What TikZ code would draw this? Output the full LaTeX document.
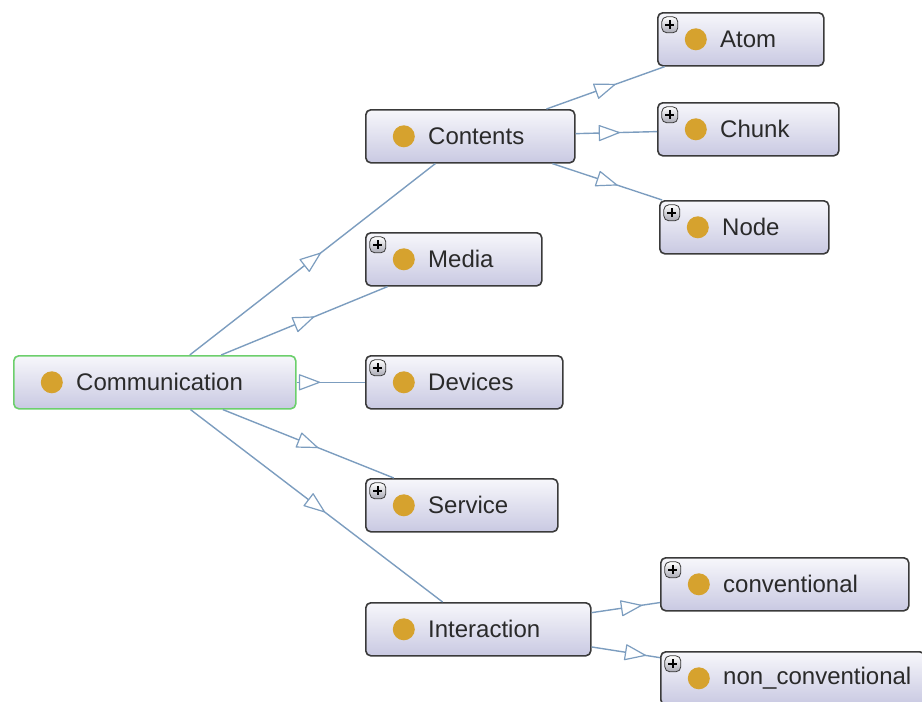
\documentclass[tikz,border=0pt]{standalone}
\usepackage{fontspec}
\setmainfont{Liberation Sans}
\usetikzlibrary{decorations.markings}

\definecolor{boxline}{HTML}{3A3A3A}
\definecolor{rootline}{HTML}{6CCF6C}
\definecolor{boxtop}{HTML}{F7F7FB}
\definecolor{boxbot}{HTML}{C9C9E2}
\definecolor{dotc}{HTML}{D6A22E}
\definecolor{edgec}{HTML}{7C9DBF}
\definecolor{plusbot}{HTML}{A9A9B4}
\definecolor{txtc}{HTML}{2A2A2A}

\tikzset{
  cls/.style={draw=boxline, line width=1.6pt, rounded corners=5pt,
    top color=boxtop, bottom color=boxbot, inner sep=0pt,
    minimum width=#1pt, minimum height=53pt, anchor=north west,
    path picture={
      \fill[dotc] ([xshift=38pt]path picture bounding box.west) circle (11pt);
    }},
  hasmore/.style={path picture={
      \fill[dotc] ([xshift=38pt]path picture bounding box.west) circle (11pt);
      \draw[boxline, line width=0.8pt, top color=white, bottom color=plusbot]
        ([shift={(4pt,-4pt)}]path picture bounding box.north west) rectangle ++(16pt,-16pt);
      \draw[black, line width=1.8pt]
        ([shift={(7.5pt,-12pt)}]path picture bounding box.north west) -- ++(9pt,0pt)
        ([shift={(12pt,-7.5pt)}]path picture bounding box.north west) -- ++(0pt,-9pt);
    }},
  lbl/.style={anchor=west, xshift=63pt, inner sep=0pt, text=txtc,
    font=\fontsize{24}{28}\selectfont},
  isa/.style={draw=edgec, line width=1.4pt},
  tri/.style={decoration={markings, mark=at position 0.5 with {
      \draw[edgec, line width=1.2pt, fill=white] (-10pt,-7.5pt) -- (10pt,0pt) -- (-10pt,7.5pt) -- cycle;}},
    postaction={decorate}}
}

\begin{document}
\begin{tikzpicture}[x=1pt, y=-1pt, line join=round]
\useasboundingbox (0,0) rectangle (922,702);
% root
\node[cls=282, draw=rootline, label={[lbl]west:Communication}] (comm) at (13,355) {};
% first level
\node[cls=209, label={[lbl]west:Contents}] (contents) at (365,109) {};
\node[cls=176, hasmore, label={[lbl]west:Media}] (media) at (365,232) {};
\node[cls=197, hasmore, label={[lbl]west:Devices}] (devices) at (365,355) {};
\node[cls=192, hasmore, label={[lbl]west:Service}] (service) at (365,478) {};
\node[cls=225, label={[lbl]west:Interaction}] (interaction) at (365,602) {};
% under Contents
\node[cls=166, hasmore, label={[lbl]west:Atom}] (atom) at (657,12) {};
\node[cls=181, hasmore, label={[lbl]west:Chunk}] (chunk) at (657,102) {};
\node[cls=169, hasmore, label={[lbl]west:Node}] (nodec) at (659,200) {};
% under Interaction
\node[cls=248, hasmore, label={[lbl]west:conventional}] (conv) at (660,557) {};
\node[cls=264, hasmore, label={[lbl]west:non\_conventional}] (nonconv) at (660,651) {};
% subclass links
\foreach \a/\b in {comm/contents, comm/media, comm/devices, comm/service,
    comm/interaction, contents/atom, contents/chunk, contents/nodec,
    interaction/conv, interaction/nonconv} {
  \draw[isa] (\a) -- (\b);
  \path[tri] (\a.center) -- (\b.center);
}
\end{tikzpicture}
\end{document}
